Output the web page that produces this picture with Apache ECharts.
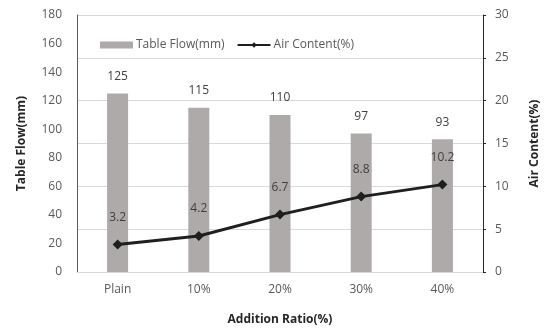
<!DOCTYPE html>
<html>
<head>
<meta charset="utf-8">
<script src="https://cdn.jsdelivr.net/npm/echarts@6/dist/echarts.min.js"></script>
<style>
  html, body { margin: 0; padding: 0; background: #fff; }
  #chart { width: 554px; height: 331px; }
</style>
</head>
<body>
<div id="chart"></div>
<script>
// Mix proportions and measured results
const categories = ['Plain', '10%', '20%', '30%', '40%'];
const tableFlow = [125, 115, 110, 97, 93];          // mm
const airContent = [3.2, 4.2, 6.7, 8.8, 10.2];      // %

const FONT = '"Open Sans", "Noto Sans", sans-serif';
const TICK = '#595959';

const chart = echarts.init(document.getElementById('chart'), null, { renderer: 'canvas' });

chart.setOption({
  animation: false,
  textStyle: { fontFamily: FONT },
  grid: { left: 77, right: 71, top: 15, bottom: 56, containLabel: false },
  legend: {
    left: 95,
    top: 34,
    itemGap: 12,
    itemWidth: 33,
    itemHeight: 7,
    textStyle: { color: TICK, fontSize: 12, fontFamily: FONT, padding: [0, 0, 0, -2] },
    data: [
      { name: 'Table Flow(mm)', icon: 'rect' },
      { name: 'Air Content(%)' }
    ]
  },
  xAxis: {
    type: 'category',
    data: categories,
    axisTick: { show: false },
    axisLine: { lineStyle: { color: '#d9d9d9', width: 1 } },
    axisLabel: { color: TICK, fontSize: 12, margin: 12 },
    name: 'Addition Ratio(%)',
    nameLocation: 'middle',
    nameGap: 42,
    nameTextStyle: { fontWeight: 'bold', fontSize: 12, color: '#262626' }
  },
  yAxis: [
    {
      type: 'value',
      min: 0, max: 180, interval: 20,
      splitLine: { show: false },
      axisTick: { show: false },
      axisLine: { show: true, lineStyle: { color: '#595959', width: 1 } },
      axisLabel: { color: TICK, fontSize: 12, margin: 15 },
      name: 'Table Flow(mm)',
      nameLocation: 'middle',
      nameGap: 49,
      nameRotate: 90,
      nameTextStyle: { fontWeight: 'bold', fontSize: 12, color: '#262626' }
    },
    {
      type: 'value',
      min: 0, max: 30, interval: 5,
      position: 'right',
      splitLine: { show: true, lineStyle: { color: '#d9d9d9', width: 1 } },
      axisTick: { show: true, inside: false, length: 3, lineStyle: { color: '#262626' } },
      axisLine: { show: true, lineStyle: { color: '#262626', width: 1 } },
      axisLabel: { color: TICK, fontSize: 12, margin: 12 },
      name: 'Air Content(%)',
      nameLocation: 'middle',
      nameGap: 46,
      nameRotate: 90,
      nameTextStyle: { fontWeight: 'bold', fontSize: 12, color: '#262626' }
    }
  ],
  series: [
    {
      name: 'Table Flow(mm)',
      type: 'bar',
      yAxisIndex: 0,
      data: tableFlow,
      barWidth: 21,
      itemStyle: { color: '#aeaaaa' },
      label: { show: true, position: 'top', distance: 11, color: '#404040', fontSize: 12 }
    },
    {
      name: 'Air Content(%)',
      type: 'line',
      yAxisIndex: 1,
      data: airContent,
      symbol: 'diamond',
      symbolSize: 10,
      lineStyle: { color: '#1f1f1f', width: 3 },
      itemStyle: { color: '#1f1f1f' },
      label: { show: true, position: 'top', distance: 16, color: '#404040', fontSize: 12 },
      z: 5
    }
  ]
});
</script>
</body>
</html>
